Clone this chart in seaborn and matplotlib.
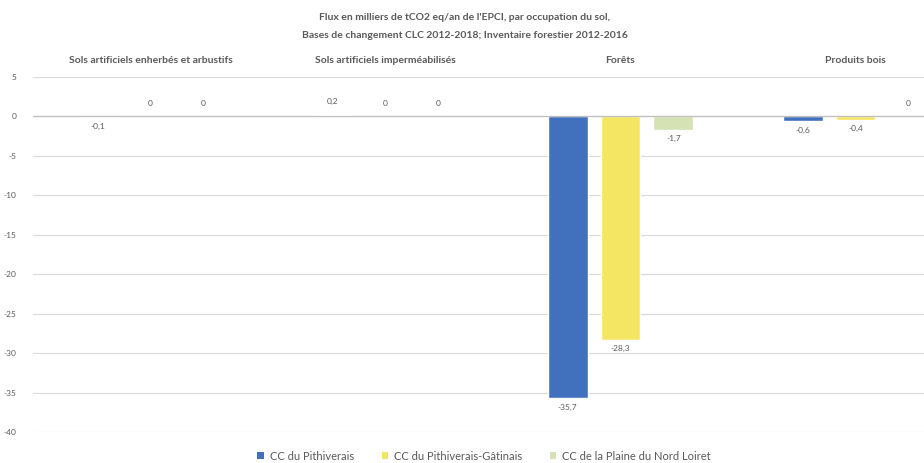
import matplotlib
matplotlib.use("Agg")
import matplotlib.pyplot as plt
import seaborn as sns
import pandas as pd
from matplotlib.patches import Patch

categories = ["Sols artificiels enherbés et arbustifs", "Sols artificiels imperméabilisés", "Forêts", "Produits bois"]
series = ["CC du Pithiverais", "CC du Pithiverais-Gâtinais", "CC de la Plaine du Nord Loiret"]
v_pithiverais = [-0.1, 0.2, -35.7, -0.6]
v_gatinais = [0.0, 0.0, -28.3, -0.4]
v_plaine = [0.0, 0.0, -1.7, 0.0]
colors = ["#4170BC", "#F4E562", "#D4E2B4"]
yticks = [5, 0, -5, -10, -15, -20, -25, -30, -35, -40]
title_lines = ["Flux en milliers de tCO2 eq/an de l'EPCI, par occupation du sol,",
               "Bases de changement CLC 2012-2018; Inventaire forestier 2012-2016"]

rows = []
for s, vals in zip(series, [v_pithiverais, v_gatinais, v_plaine]):
    for c, v in zip(categories, vals):
        rows.append({"cat": c, "serie": s, "val": v})
df = pd.DataFrame(rows)

sns.set_theme(style="white")
plt.rcParams["font.family"] = ["Lato", "DejaVu Sans"]

fig = plt.figure(figsize=(9.24, 4.63), dpi=100)
ax = fig.add_axes([33/924, 1 - 432/463, 1 - 33/924, (432 - 77)/463])

sns.barplot(data=df, x="cat", y="val", hue="serie", order=categories, hue_order=series,
            palette=colors, width=0.675, gap=0.245, ax=ax, legend=False, errorbar=None,
            saturation=1)

ax.set_ylim(-40, 5)
ax.set_xlim(-0.5, -0.5 + (924 - 33) / 235)
ax.set_yticks(yticks)
ax.set_yticklabels([str(t) for t in yticks], fontsize=6, color="#595959")
ax.tick_params(axis="y", length=0, pad=12)
ax.grid(axis="y", color="#D9D9D9", lw=0.8)
ax.set_axisbelow(True)
ax.axhline(0, color="#BFBFBF", lw=0.9, zorder=1)
for sp in ax.spines.values():
    sp.set_visible(False)

ax.xaxis.tick_top()
ax.tick_params(axis="x", length=0, pad=9)
ax.set_xticks(range(len(categories)))
ax.set_xticklabels(categories, fontsize=7.5, fontweight="bold", color="#595959")
ax.set_xlabel("")
ax.set_ylabel("")

def fmt(v):
    if v == 0:
        return "0"
    return ("%.1f" % v).replace(".", ",")

all_vals = [v_pithiverais, v_gatinais, v_plaine]
for cont, vals in zip(ax.containers, all_vals):
    for bar, v in zip(cont, vals):
        x = bar.get_x() + bar.get_width() / 2
        if v >= 0:
            ax.annotate(fmt(v), (x, v), xytext=(0, 7), textcoords="offset points",
                        ha="center", va="bottom", fontsize=6, color="#595959")
        else:
            ax.annotate(fmt(v), (x, v), xytext=(0, -4), textcoords="offset points",
                        ha="center", va="top", fontsize=6, color="#595959")

for i, line in enumerate(title_lines):
    fig.text(0.503, 1 - (17 + 18 * i)/463, line, ha="center", va="center",
             fontsize=7.5, fontweight="bold", color="#595959")

handles = [Patch(facecolor=c, edgecolor="none") for c in colors]
fig.legend(handles, series, loc="center", bbox_to_anchor=(484/924, 1 - 456/463), ncol=3,
           frameon=False, fontsize=8, handlelength=0.6, handleheight=0.6,
           handletextpad=0.5, columnspacing=2.5, labelcolor="#595959")

fig.savefig("out.png", dpi=100)
